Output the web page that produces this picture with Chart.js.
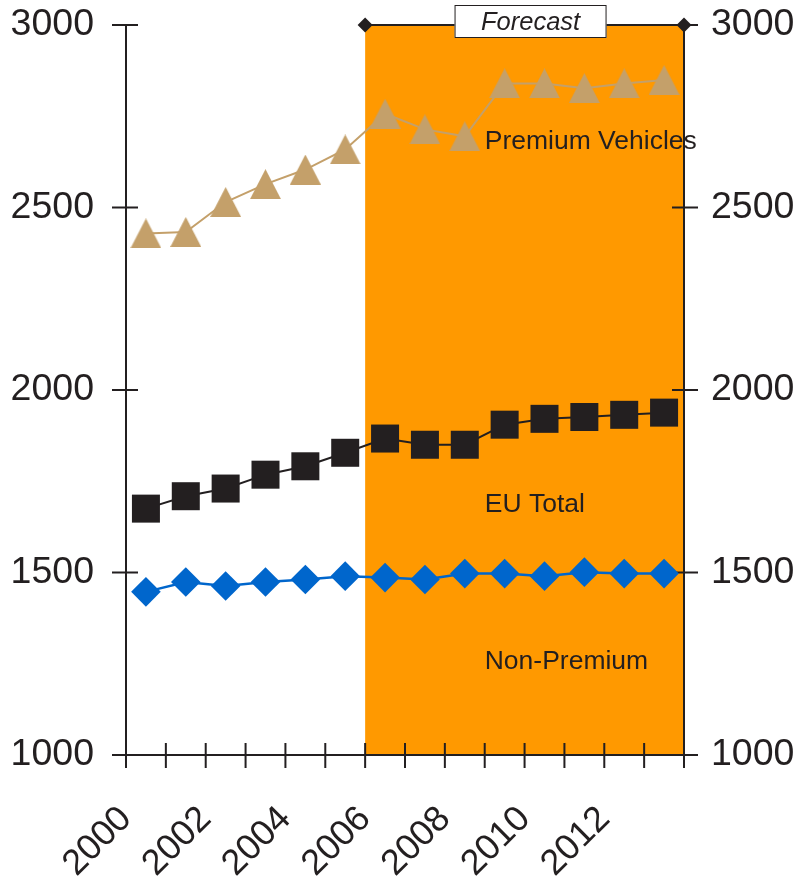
<!DOCTYPE html>
<html>
<head>
<meta charset="utf-8">
<script src="https://cdn.jsdelivr.net/npm/chart.js@4/dist/chart.umd.min.js"></script>
<style>
  html, body { margin: 0; padding: 0; background: #ffffff; }
  #wrap { width: 806px; height: 881px; }
</style>
</head>
<body>
<div id="wrap"><canvas id="chart" width="806" height="881"></canvas></div>
<script>
// Years (each value sits in the middle of its year band)
const years = [2000, 2001, 2002, 2003, 2004, 2005, 2006, 2007, 2008, 2009, 2010, 2011, 2012, 2013];

// Series values
const premiumVehicles = [2429, 2433, 2515, 2564, 2604, 2659, 2757, 2714, 2695, 2840, 2840, 2827, 2840, 2849];
const euTotal         = [1675, 1709, 1730, 1768, 1791, 1828, 1867, 1850, 1850, 1905, 1921, 1926, 1932, 1938];
const nonPremium      = [1447, 1474, 1463, 1474, 1481, 1490, 1486, 1481, 1497, 1497, 1490, 1501, 1497, 1497];

// Axis ranges and tick labels
const yTicks = [1000, 1500, 2000, 2500, 3000];
const xLabelYears = [2000, 2002, 2004, 2006, 2008, 2010, 2012];
const xRange = [2000, 2014];
const forecastRange = [2006, 2014];

// In-chart series captions
const captions = [
  { text: 'Premium Vehicles', year: 2009, value: 2660 },
  { text: 'EU Total',         year: 2009, value: 1666 },
  { text: 'Non-Premium',      year: 2009, value: 1236 }
];

const INK = '#231F20';
const ORANGE = '#FF9900';
const TAN = '#C4A06A';
const BLUE = '#0066CC';
const FONT = '"Liberation Sans", Arial, Helvetica, sans-serif';

function toPoints(values) {
  return values.map((v, i) => ({ x: years[i] + 0.5, y: v }));
}

// Triangle marker centred on its bounding box
function triangleMarker(w, h, color) {
  const c = document.createElement('canvas');
  c.width = w; c.height = h;
  const g = c.getContext('2d');
  g.fillStyle = color;
  g.beginPath();
  g.moveTo(w / 2, 0);
  g.lineTo(w, h);
  g.lineTo(0, h);
  g.closePath();
  g.fill();
  return c;
}

const triImg = triangleMarker(31, 30, TAN);

// Axis boxes keep a fixed size and no extra label overhang
function fixBox(size, horizontal) {
  return function (scale) {
    if (horizontal) scale.height = size; else scale.width = size;
    scale.paddingTop = 0;
    scale.paddingBottom = 0;
    scale.paddingLeft = 0;
    scale.paddingRight = 0;
  };
}

// Forecast band, axis lines with crossing ticks, captions and the forecast header
const decorations = {
  id: 'decorations',
  beforeDatasetsDraw(chart) {
    const { ctx, chartArea: a, scales } = chart;
    const x = scales.x, y = scales.y;
    const fx0 = x.getPixelForValue(forecastRange[0]);
    const fx1 = x.getPixelForValue(forecastRange[1]);
    ctx.save();
    ctx.fillStyle = ORANGE;
    ctx.fillRect(fx0, a.top, fx1 - fx0, a.bottom - a.top);

    ctx.strokeStyle = INK;
    ctx.lineWidth = 2;
    ctx.beginPath();
    // left and right axis lines
    ctx.moveTo(a.left, a.top); ctx.lineTo(a.left, a.bottom);
    ctx.moveTo(a.right, a.top); ctx.lineTo(a.right, a.bottom);
    // bottom axis line
    ctx.moveTo(a.left - 13, a.bottom); ctx.lineTo(a.right + 13, a.bottom);
    // y ticks on both axes
    yTicks.forEach(v => {
      const py = y.getPixelForValue(v);
      ctx.moveTo(a.left - 14, py); ctx.lineTo(a.left + 12, py);
      ctx.moveTo(a.right - 12, py); ctx.lineTo(a.right + 14, py);
    });
    // x ticks at each year boundary
    for (let yr = xRange[0]; yr <= xRange[1]; yr++) {
      const px = x.getPixelForValue(yr);
      ctx.moveTo(px, a.bottom - 12); ctx.lineTo(px, a.bottom + 13);
    }
    ctx.stroke();
    ctx.restore();
  },
  afterDatasetsDraw(chart) {
    const { ctx, chartArea: a, scales } = chart;
    const x = scales.x, y = scales.y;
    ctx.save();
    // captions
    ctx.fillStyle = INK;
    ctx.font = '26.5px ' + FONT;
    ctx.textAlign = 'left';
    ctx.textBaseline = 'alphabetic';
    captions.forEach(c => {
      ctx.fillText(c.text, x.getPixelForValue(c.year), y.getPixelForValue(c.value));
    });

    // forecast header line with diamond ends
    const fx0 = x.getPixelForValue(forecastRange[0]);
    const fx1 = x.getPixelForValue(forecastRange[1]);
    ctx.strokeStyle = INK;
    ctx.lineWidth = 2;
    ctx.beginPath();
    ctx.moveTo(fx0, a.top); ctx.lineTo(fx1, a.top);
    ctx.stroke();
    [fx0, fx1].forEach(px => {
      ctx.beginPath();
      ctx.moveTo(px - 7.5, a.top);
      ctx.lineTo(px, a.top - 7.5);
      ctx.lineTo(px + 7.5, a.top);
      ctx.lineTo(px, a.top + 7.5);
      ctx.closePath();
      ctx.fill();
    });

    // forecast label box
    const cx = x.getPixelForValue(2010.15);
    const bw = 152, bh = 33, by = 5;
    ctx.fillStyle = '#ffffff';
    ctx.fillRect(cx - bw / 2, by, bw, bh);
    ctx.lineWidth = 1;
    ctx.strokeRect(cx - bw / 2 + 0.5, by + 0.5, bw - 1, bh - 1);
    ctx.fillStyle = INK;
    ctx.font = 'italic 25.5px ' + FONT;
    ctx.textAlign = 'center';
    ctx.textBaseline = 'middle';
    ctx.fillText('Forecast', cx, by + bh / 2 + 1);
    ctx.restore();
  }
};

new Chart(document.getElementById('chart'), {
  type: 'line',
  data: {
    datasets: [
      {
        label: 'Premium Vehicles',
        data: toPoints(premiumVehicles),
        borderColor: TAN,
        backgroundColor: TAN,
        borderWidth: 2,
        pointStyle: triImg,
        pointRadius: 15,
        tension: 0,
        yAxisID: 'y'
      },
      {
        label: 'EU Total',
        data: toPoints(euTotal),
        borderColor: INK,
        backgroundColor: INK,
        borderWidth: 2,
        pointStyle: 'rect',
        pointRadius: 19.8,
        pointBorderWidth: 0,
        tension: 0,
        yAxisID: 'y'
      },
      {
        label: 'Non-Premium',
        data: toPoints(nonPremium),
        borderColor: BLUE,
        backgroundColor: BLUE,
        borderWidth: 2.5,
        pointStyle: 'rectRot',
        pointRadius: 14.8,
        pointBorderWidth: 0,
        tension: 0,
        yAxisID: 'y'
      }
    ]
  },
  options: {
    responsive: false,
    animation: false,
    events: [],
    layout: { padding: { top: 25, left: 0, right: 0, bottom: 0 } },
    plugins: { legend: { display: false }, tooltip: { enabled: false } },
    scales: {
      x: {
        type: 'linear',
        min: xRange[0],
        max: xRange[1],
        grid: { display: false, drawTicks: false },
        border: { display: false },
        afterBuildTicks(scale) {
          scale.ticks = xLabelYears.map(v => ({ value: v }));
        },
        afterFit: fixBox(126, true),
        ticks: {
          autoSkip: false,
          minRotation: 45,
          maxRotation: 45,
          padding: 43,
          color: INK,
          font: { family: FONT, size: 36 },
          callback: v => String(v)
        }
      },
      y: {
        position: 'left',
        min: 1000,
        max: 3000,
        grid: { display: false, drawTicks: false },
        border: { display: false },
        afterBuildTicks(scale) {
          scale.ticks = yTicks.map(v => ({ value: v }));
        },
        afterFit: fixBox(126, false),
        ticks: {
          padding: 32,
          color: INK,
          font: { family: FONT, size: 37.5 },
          callback: v => String(v)
        }
      },
      y2: {
        position: 'right',
        min: 1000,
        max: 3000,
        grid: { display: false, drawTicks: false },
        border: { display: false },
        afterBuildTicks(scale) {
          scale.ticks = yTicks.map(v => ({ value: v }));
        },
        afterFit: fixBox(122, false),
        ticks: {
          padding: 27,
          color: INK,
          font: { family: FONT, size: 37.5 },
          callback: v => String(v)
        }
      }
    }
  },
  plugins: [decorations]
});
</script>
</body>
</html>
